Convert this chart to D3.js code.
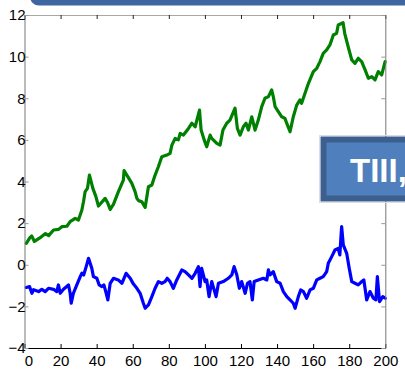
<!DOCTYPE html>
<html><head><meta charset="utf-8">
<script src="https://cdn.jsdelivr.net/npm/d3@7"></script>
<style>html,body{margin:0;padding:0;background:#fff;overflow:hidden}svg{display:block}</style>
</head><body>
<script>
const xTicks = [0,20,40,60,80,100,120,140,160,180,200];
const yTicks = [-4,-2,0,2,4,6,8,10,12];
const boxLabel = "TIII,";

const greenX = [1,3,4,5.5,8.7,11.6,13.4,16.1,18.9,20.7,23.5,25.3,28.1,29.9,31.8,32.7,33.6,34.9,36,37.9,39.5,41,44.7,46,47.5,49.3,52,54.8,55.2,57.5,59.5,61.3,62.3,63.2,65,66.9,68.7,70.6,72.4,74.2,76.1,78.9,80.7,81.7,83.5,85.3,86.3,88.1,90.9,92.8,94.6,97,97.9,99.6,101,102.9,103.8,106.6,108.4,110,112.1,113.9,116.7,118,119.5,121.3,122.8,124.1,126,127.8,129.6,131.5,133.3,135.2,137,137.9,138.9,140.7,142.6,144.4,145.4,147.2,149,150.9,152.7,153.6,155.5,157.4,160.1,162,163.8,165.6,167.5,169.3,171.2,173,173.9,176.6,177.5,179.4,181.4,183.2,185,186.9,188.8,190.6,192.5,194.3,196.1,198,199.9];
const greenY = [1.03,1.3,1.38,1.12,1.3,1.5,1.4,1.67,1.7,1.83,1.85,2.07,2.23,2.15,2.63,3.03,3.51,3.67,4.31,3.67,3.3,2.82,3.19,3.0,2.66,2.9,3.5,4.07,4.52,4.2,3.91,3.51,3.19,3.08,3.03,2.76,3.75,3.83,4.31,4.71,5.19,5.27,5.35,5.75,6.07,6.0,6.31,6.23,6.55,6.8,6.63,7.43,6.47,6.0,5.67,6.23,6.07,5.83,5.75,6.47,6.8,6.95,7.52,6.55,6.23,6.63,6.8,6.47,7.11,6.47,6.95,7.6,8.0,8.08,8.4,8.08,7.6,7.36,7.11,7.03,6.79,6.39,7.11,7.67,7.92,7.76,8.24,8.72,9.28,9.44,9.76,10.16,10.32,10.56,11.04,11.12,11.52,11.63,11.12,10.48,9.84,9.68,9.92,9.76,9.36,8.96,9.04,8.88,9.28,9.12,9.76];

const blueX = [0.9,2.8,4.1,5,7.8,9.6,11.5,13.3,16.1,17.9,18.8,19.8,21.6,24.4,25.3,25.9,27.1,29,30.9,31.8,32.8,34.2,35.5,36.4,37.3,38.2,40.1,41.4,42.9,44,45.3,46.2,47.5,49.3,52,54,56.3,58.6,60.4,62.3,64.1,65.9,66.9,68.7,70.6,72.4,74.2,76.1,77.9,79.1,80.7,82.5,84.4,87.2,89,90.9,92.8,94.6,96.4,97.3,98.2,100.1,101,102.3,103.8,106.2,107.5,110.2,113,114.9,116.2,117.7,119.1,120.4,122.3,123.6,125,126.3,127.3,129.6,132.4,134.3,135.2,136.1,137.9,139.8,141.7,143.5,145.4,147.2,149,150,151.8,153.1,154.6,156.4,158.3,160.1,162,163.8,165.6,167.5,168.4,170.3,172.1,173.9,174.8,175.8,176.7,178.6,180,181.4,183.2,185,186.9,188.1,189.7,191.5,193.4,194.8,195.6,196.8,198.6,200];
const blueY = [-1.09,-1.05,-1.37,-1.2,-1.29,-1.18,-1.29,-1.13,-1.18,-1.29,-0.97,-1.37,-1.18,-0.97,-1.37,-1.85,-1.37,-0.97,-0.57,-0.41,-0.49,-0.09,0.31,0.07,-0.17,-0.57,-0.65,-0.97,-1.05,-0.97,-1.37,-1.69,-0.89,-0.65,-0.73,-0.89,-0.41,-0.65,-0.93,-1.13,-1.37,-1.85,-2.09,-1.93,-1.53,-1.13,-0.81,-0.89,-0.81,-0.65,-0.81,-1.13,-0.73,-0.25,-0.33,-0.49,-0.65,-0.41,-0.09,-1.05,-0.17,-0.81,-0.73,-1.53,-0.81,-1.53,-0.89,-0.81,-0.65,-0.49,-0.09,-0.49,-1.13,-0.81,-1.37,-0.89,-0.81,-1.69,-0.81,-0.73,-0.65,-0.73,-0.25,-0.49,-0.33,-0.81,-0.89,-1.29,-1.53,-1.69,-1.85,-2.09,-1.53,-1.21,-1.29,-1.61,-1.21,-1.13,-0.73,-0.65,-0.57,-0.33,0.07,0.39,0.71,0.79,0.47,1.83,0.95,0.55,-0.17,-0.81,-0.89,-0.97,-0.81,-0.73,-1.69,-1.29,-1.61,-1.69,-0.57,-1.77,-1.53,-1.61];

const W = 405, H = 369;
const svg = d3.select("body").append("svg").attr("width", W).attr("height", H);

const x = d3.scaleLinear().domain([0, 200]).range([24.5, 385.3]);
const y = d3.scaleLinear().domain([-4, 12]).range([348, 15]);

// top banner
svg.append("rect").attr("x", 30).attr("y", -12).attr("width", 400).attr("height", 17.5)
  .attr("rx", 9).attr("fill", "#3f66a0");

// lines
const line = d3.line().x(d=>d[0]).y(d=>d[1]);
function draw(xs, ys, color) {
  svg.append("path")
    .datum(xs.map((v,i)=>[x(v), y(ys[i])]))
    .attr("d", line).attr("fill", "none").attr("stroke", color)
    .attr("stroke-width", 3.2).attr("stroke-linejoin", "round").attr("stroke-linecap", "round");
}
draw(greenX, greenY, "#008000");
draw(blueX, blueY, "#0000ff");

// axes (box)
const gBottom = svg.append("g").attr("transform", `translate(0,${y(-4)})`)
  .call(d3.axisBottom(x).tickValues(xTicks).tickSizeInner(-4).tickSizeOuter(0).tickPadding(7));
const gTop = svg.append("g").attr("transform", `translate(0,${y(12)})`)
  .call(d3.axisTop(x).tickValues(xTicks).tickSizeInner(-4).tickSizeOuter(0).tickFormat(""));
const gLeft = svg.append("g").attr("transform", `translate(${x(0)},0)`)
  .call(d3.axisLeft(y).tickValues(yTicks).tickSizeInner(-4).tickSizeOuter(0).tickPadding(-1));
const gRight = svg.append("g").attr("transform", `translate(${x(200)},0)`)
  .call(d3.axisRight(y).tickValues(yTicks).tickSizeInner(-4).tickSizeOuter(0).tickFormat(""));

[gBottom, gTop, gLeft, gRight].forEach(g => {
  g.selectAll("text").attr("font-family", "Liberation Sans, Arial, sans-serif")
    .attr("font-size", 15).attr("fill", "#000");
  g.selectAll(".tick line").attr("stroke", "#000");
});
// first x label sits slightly right of its tick, as in the reference
gBottom.selectAll(".tick text").filter(d => d === 0).attr("dx", 4);
gBottom.select(".domain").attr("stroke", "#000");
gTop.select(".domain").attr("stroke", "#a8a8a8");
gLeft.select(".domain").attr("stroke", "#777");
gRight.select(".domain").attr("stroke", "#777");
gTop.selectAll(".tick line").attr("stroke", "#222");
gRight.selectAll(".tick line").attr("stroke", "#999");
gLeft.selectAll(".tick line").attr("stroke", "#999");

// TIII box
svg.append("rect").attr("x", 319.5).attr("y", 135.5).attr("width", 100).attr("height", 67)
  .attr("fill", "none").attr("stroke", "#d8dde6").attr("stroke-width", 1);
svg.append("rect").attr("x", 320.5).attr("y", 136.5).attr("width", 100).attr("height", 65)
  .attr("fill", "#3c5f8e");
svg.append("rect").attr("x", 326.5).attr("y", 142.5).attr("width", 100).attr("height", 53)
  .attr("fill", "#4f80bd");
svg.append("text").attr("x", 350).attr("y", 182)
  .attr("font-family", "Liberation Sans, Arial, sans-serif").attr("font-weight", "bold")
  .attr("font-size", 33).attr("fill", "#fff").text(boxLabel);
</script>
</body></html>
